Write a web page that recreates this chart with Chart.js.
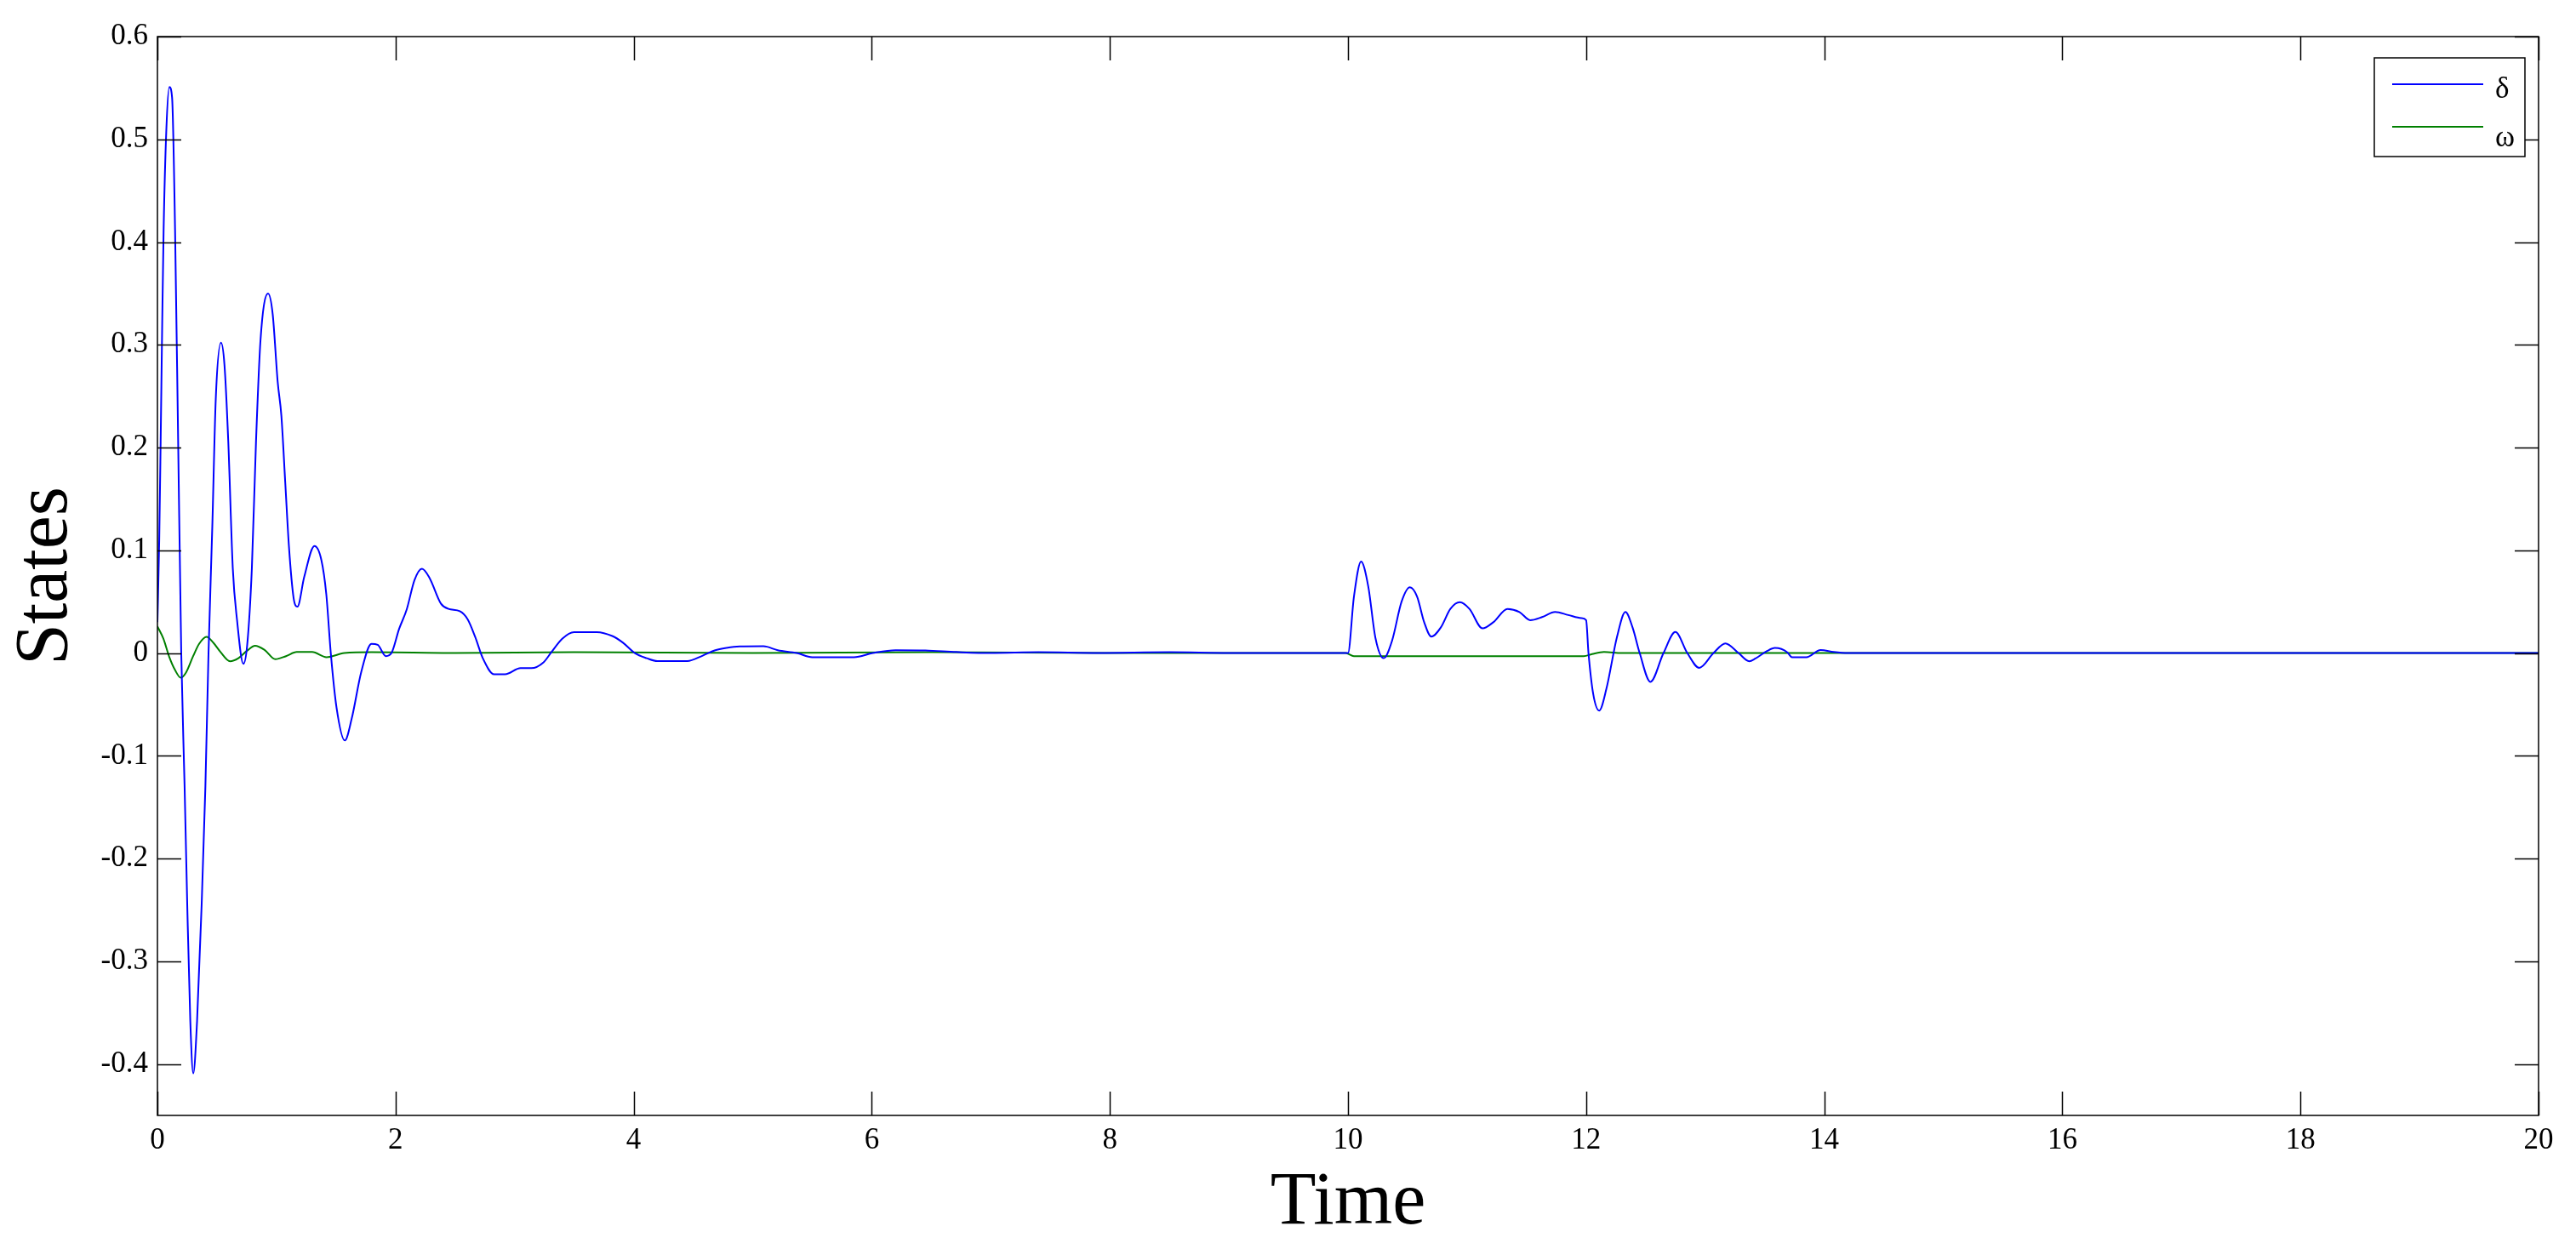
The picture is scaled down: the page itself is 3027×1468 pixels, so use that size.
<!DOCTYPE html>
<html>
<head>
<meta charset="utf-8">
<title>States</title>
<script src="https://cdn.jsdelivr.net/npm/chart.js@4.4.1/dist/chart.umd.min.js"></script>
<style>
    html, body { margin: 0; padding: 0; background: #fff; }
    canvas { display: block; }
</style>
</head>
<body>
<canvas id="states-chart" width="3027" height="1468"></canvas>
<script>
const deltaTime = [
    0, 0.015, 0.027, 0.04, 0.052, 0.075, 0.1, 0.123, 0.148, 0.174, 0.2, 0.228, 0.25, 0.276, 0.301, 0.333, 0.372, 0.403, 0.429,
    0.461, 0.49, 0.534, 0.563, 0.595, 0.633, 0.668, 0.722, 0.754, 0.793, 0.828, 0.866, 0.929, 0.968, 1.01, 1.041, 1.074, 1.105,
    1.144, 1.176, 1.233, 1.319, 1.377, 1.418, 1.456, 1.504, 1.574, 1.631, 1.712, 1.798, 1.85, 1.919, 1.966, 2.03, 2.094, 2.159,
    2.222, 2.286, 2.382, 2.445, 2.54, 2.605, 2.669, 2.733, 2.828, 2.92, 3.05, 3.14, 3.243, 3.307, 3.4, 3.5, 3.69, 3.82, 3.91,
    4.01, 4.11, 4.2, 4.45, 4.58, 4.68, 4.78, 4.89, 5.09, 5.21, 5.37, 5.5, 5.85, 6.01, 6.2, 6.45, 6.71, 7.0, 7.4, 7.9, 8.5, 9.0,
    9.5, 9.97, 10.0, 10.05, 10.11, 10.17, 10.23, 10.3, 10.37, 10.45, 10.52, 10.58, 10.64, 10.7, 10.78, 10.86, 10.94, 11.02,
    11.13, 11.22, 11.34, 11.44, 11.53, 11.63, 11.74, 11.85, 11.96, 12.0, 12.02, 12.06, 12.11, 12.17, 12.26, 12.33, 12.39, 12.45,
    12.54, 12.65, 12.75, 12.85, 12.95, 13.07, 13.17, 13.28, 13.37, 13.42, 13.52, 13.585, 13.64, 13.69, 13.73, 13.85, 13.97,
    14.08, 14.2, 15, 16, 17, 18, 19, 20
];
const deltaValues = [
    0.03, 0.11, 0.206, 0.32, 0.4125, 0.51, 0.551, 0.5407, 0.4125, 0.206, 0, -0.129, -0.243, -0.358, -0.409, -0.358, -0.243, -0.129, 0,
    0.1236, 0.2475, 0.302, 0.2805, 0.206, 0.0823, 0.0328, -0.0105, 0.008, 0.0823, 0.206, 0.305, 0.3499, 0.33, 0.264, 0.231, 0.165, 0.103,
    0.0534, 0.0452, 0.0741, 0.1042, 0.0906, 0.0576, 0, -0.0528, -0.0851, -0.0642, -0.0184, 0.009, 0.008, -0.003, 0, 0.0235, 0.0425, 0.071,
    0.082, 0.073, 0.048, 0.043, 0.0407, 0.033, 0.0157, -0.005, -0.0207, -0.0207, -0.0147, -0.0147, -0.009, 0.0006, 0.014, 0.0204, 0.0204, 0.0166, 0.0101,
    0, -0.005, -0.0078, -0.0078, -0.0025, 0.0025, 0.005, 0.0064, 0.0066, 0.0028, 0, -0.004, -0.004, 0, 0.0028, 0.0025, 0.001, 0, 0.0008, 0, 0.0008, 0,
    0, 0, 0, 0.055, 0.089, 0.065, 0.015, -0.005, 0.012, 0.05, 0.064, 0.055, 0.03, 0.016, 0.025, 0.043, 0.0495, 0.043,
    0.024, 0.03, 0.043, 0.04, 0.032, 0.035, 0.04, 0.037, 0.034, 0.032, 0.0, -0.04, -0.056, -0.035, 0.016, 0.04, 0.025, 0,
    -0.028, 0, 0.0205, 0, -0.0144, 0, 0.0094, 0, -0.008, -0.0055, 0.002, 0.005, 0.004, 0.0007, -0.004, -0.004, 0.003,
    0.001, 0, 0, 0, 0, 0, 0, 0
];
const omegaTime = [
    0, 0.05, 0.1, 0.15, 0.196, 0.24, 0.3, 0.35, 0.413, 0.47, 0.53, 0.61, 0.68, 0.75, 0.82, 0.9, 0.99, 1.08, 1.17, 1.3, 1.42, 1.57,
    1.8, 2.5, 3.5, 5, 6.5, 8, 9.98, 10.05, 11.98, 12.05, 12.15, 12.3, 13, 14, 20
];
const omegaValues = [
    0.026, 0.014, -0.004, -0.017, -0.024, -0.019, -0.003, 0.009, 0.0158, 0.01, 0.001, -0.008, -0.005, 0.002, 0.007, 0.003, -0.006, -0.003, 0.001, 0.001, -0.004, 0,
    0.0008, 0, 0.0008, 0, 0.0008, 0, 0, -0.003, -0.003, -0.001, 0.001, 0, 0, 0, 0
];
const xTickValues = [0, 2, 4, 6, 8, 10, 12, 14, 16, 18, 20];
const yTickValues = [-0.4, -0.3, -0.2, -0.1, 0, 0.1, 0.2, 0.3, 0.4, 0.5, 0.6];
const seriesLabels = ["δ", "ω"];
const seriesColors = ["#0000ff", "#008000"];

const serifFont = "'Liberation Serif', 'Times New Roman', serif";
const tickMarkLength = 28;

function toPoints(times, values) {
    return times.map((t, i) => ({ x: t, y: values[i] }));
}

const boxAndTicks = {
    id: "boxAndTicks",
    afterDatasetsDraw(chart) {
        const { ctx, chartArea, scales } = chart;
        const { left, right, top, bottom } = chartArea;
        ctx.save();
        ctx.strokeStyle = "#000";
        ctx.lineWidth = 1.5;
        ctx.beginPath();
        xTickValues.forEach((value) => {
            const px = Math.round(scales.x.getPixelForValue(value)) + 0.5;
            ctx.moveTo(px, bottom);
            ctx.lineTo(px, bottom - tickMarkLength);
            ctx.moveTo(px, top);
            ctx.lineTo(px, top + tickMarkLength);
        });
        yTickValues.forEach((value) => {
            const py = Math.round(scales.y.getPixelForValue(value)) + 0.5;
            ctx.moveTo(left, py);
            ctx.lineTo(left + tickMarkLength, py);
            ctx.moveTo(right, py);
            ctx.lineTo(right - tickMarkLength, py);
        });
        ctx.stroke();
        ctx.strokeRect(left, top, right - left, bottom - top);
        ctx.restore();
    }
};

const boxedLegend = {
    id: "boxedLegend",
    afterDraw(chart) {
        const { ctx, chartArea } = chart;
        const boxX = chartArea.right - 193;
        const boxY = chartArea.top + 25;
        ctx.save();
        ctx.fillStyle = "#fff";
        ctx.fillRect(boxX, boxY, 177, 116);
        ctx.strokeStyle = "#000";
        ctx.lineWidth = 1.5;
        ctx.strokeRect(boxX, boxY, 177, 116);
        chart.data.datasets.forEach((dataset, i) => {
            const lineY = boxY + 31 + i * 50;
            ctx.strokeStyle = dataset.borderColor;
            ctx.lineWidth = dataset.borderWidth;
            ctx.beginPath();
            ctx.moveTo(boxX + 21, lineY);
            ctx.lineTo(boxX + 128, lineY);
            ctx.stroke();
            ctx.fillStyle = "#000";
            ctx.font = `35px ${serifFont}`;
            ctx.textBaseline = "alphabetic";
            ctx.fillText(dataset.label, boxX + 142, boxY + 47 + i * 57);
        });
        ctx.restore();
    }
};

const tickFont = { family: serifFont, size: 35 };
const titleFont = { family: serifFont, size: 88 };

new Chart(document.querySelector("#states-chart"), {
    type: "line",
    data: {
        datasets: [
            { label: seriesLabels[0], data: toPoints(deltaTime, deltaValues), borderColor: seriesColors[0], borderWidth: 2, pointRadius: 0, fill: false, cubicInterpolationMode: "monotone" },
            { label: seriesLabels[1], data: toPoints(omegaTime, omegaValues), borderColor: seriesColors[1], borderWidth: 2, pointRadius: 0, fill: false, cubicInterpolationMode: "monotone" }
        ]
    },
    options: {
        responsive: false,
        animation: false,
        devicePixelRatio: 1,
        layout: { padding: { top: 43, right: 44, bottom: 0, left: 0 } },
        plugins: { legend: { display: false }, tooltip: { enabled: false } },
        scales: {
            x: {
                type: "linear", min: 0, max: 20,
                afterBuildTicks: (scale) => { scale.ticks = xTickValues.map((value) => ({ value })); },
                afterFit: (scale) => { scale.height = 157; },
                ticks: { font: tickFont, color: "#000", padding: 9, maxRotation: 0, callback: (value) => String(value) },
                grid: { display: false, drawTicks: false },
                border: { display: false },
                title: { display: true, text: "Time", font: titleFont, color: "#000", padding: { top: 0, bottom: 0 } }
            },
            y: {
                type: "linear", min: -0.45, max: 0.6,
                afterBuildTicks: (scale) => { scale.ticks = yTickValues.map((value) => ({ value })); },
                afterFit: (scale) => { scale.width = 185; },
                ticks: { font: tickFont, color: "#000", padding: 11, callback: (value) => String(Math.round(value * 10) / 10) },
                grid: { display: false, drawTicks: false },
                border: { display: false },
                title: { display: true, text: "States", font: titleFont, color: "#000", padding: { top: 2, bottom: 0 } }
            }
        }
    },
    plugins: [boxAndTicks, boxedLegend]
});
</script>
</body>
</html>
